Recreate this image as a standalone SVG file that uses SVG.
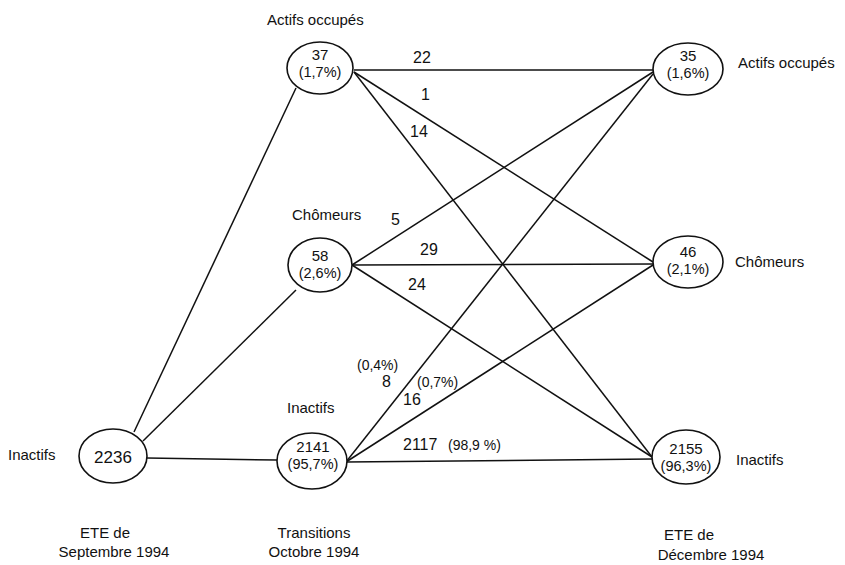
<svg xmlns="http://www.w3.org/2000/svg" width="845" height="565" viewBox="0 0 845 565">
<style>
text{font-family:"Liberation Sans",Arial,sans-serif;fill:#111}
.lab{font-size:15px}
.num{font-size:15px;text-anchor:middle}
.pct{font-size:14.5px;text-anchor:middle}
.big{font-size:17px;text-anchor:middle}
.flow{font-size:16px}
.sm{font-size:14px}
ellipse{fill:#fff;stroke:#111;stroke-width:1.6}
#connectors line{stroke:#111;stroke-width:1.5}
</style>
<rect width="845" height="565" fill="#fff"/>
<g id="connectors">
<line x1="134" y1="432" x2="296" y2="88"/>
<line x1="143" y1="441" x2="296" y2="290"/>
<line x1="147" y1="458" x2="277" y2="460"/>
<line x1="354" y1="70" x2="653" y2="70"/>
<line x1="354" y1="72" x2="653" y2="262"/>
<line x1="354" y1="72" x2="652" y2="457"/>
<line x1="352" y1="265" x2="653" y2="72"/>
<line x1="352" y1="265" x2="653" y2="264"/>
<line x1="352" y1="265" x2="652" y2="457"/>
<line x1="346" y1="462" x2="653" y2="74"/>
<line x1="346" y1="462" x2="653" y2="265"/>
<line x1="346" y1="462" x2="652" y2="459"/>
</g>
<g id="flow-labels" class="flow">
<text x="413" y="63">22</text>
<text x="421" y="100">1</text>
<text x="410" y="137">14</text>
<text x="391" y="225">5</text>
<text x="420" y="255">29</text>
<text x="408" y="290">24</text>
<text x="357" y="370" class="sm">(0,4%)</text>
<text x="382" y="387">8</text>
<text x="417" y="387" class="sm">(0,7%)</text>
<text x="403" y="405">16</text>
<text x="403" y="450">2117</text>
<text x="448" y="450" class="sm">(98,9 %)</text>
</g>
<g id="n2236">
<ellipse cx="113" cy="456" rx="34" ry="27"/>
<text x="113" y="463" class="big">2236</text>
<text x="8" y="460" class="lab">Inactifs</text>
</g>
<g id="n37">
<ellipse cx="320" cy="68" rx="33" ry="26"/>
<text x="320" y="60" class="num">37</text>
<text x="320" y="77" class="pct">(1,7%)</text>
<text x="267" y="25" class="lab">Actifs occupés</text>
</g>
<g id="n58">
<ellipse cx="320" cy="265" rx="32" ry="27"/>
<text x="320" y="261" class="num">58</text>
<text x="320" y="278" class="pct">(2,6%)</text>
<text x="292" y="220" class="lab">Chômeurs</text>
</g>
<g id="n2141">
<ellipse cx="312" cy="461" rx="35" ry="28"/>
<text x="313" y="452" class="num">2141</text>
<text x="313" y="469" class="pct">(95,7%)</text>
<text x="287" y="413" class="lab">Inactifs</text>
</g>
<g id="n35">
<ellipse cx="688" cy="69" rx="35" ry="26"/>
<text x="688" y="61" class="num">35</text>
<text x="688" y="78" class="pct">(1,6%)</text>
<text x="738" y="68" class="lab">Actifs occupés</text>
</g>
<g id="n46">
<ellipse cx="688" cy="262" rx="35" ry="26"/>
<text x="688" y="257" class="num">46</text>
<text x="688" y="274" class="pct">(2,1%)</text>
<text x="735" y="267" class="lab">Chômeurs</text>
</g>
<g id="n2155">
<ellipse cx="686" cy="457" rx="34" ry="27"/>
<text x="686" y="454" class="num">2155</text>
<text x="686" y="471" class="pct">(96,3%)</text>
<text x="736" y="465" class="lab">Inactifs</text>
</g>
<g id="captions" class="lab" text-anchor="middle">
<text x="105" y="538">ETE de</text>
<text x="114" y="557">Septembre 1994</text>
<text x="314" y="538">Transitions</text>
<text x="314" y="557">Octobre 1994</text>
<text x="689" y="540">ETE de</text>
<text x="711" y="560">Décembre 1994</text>
</g>
</svg>
